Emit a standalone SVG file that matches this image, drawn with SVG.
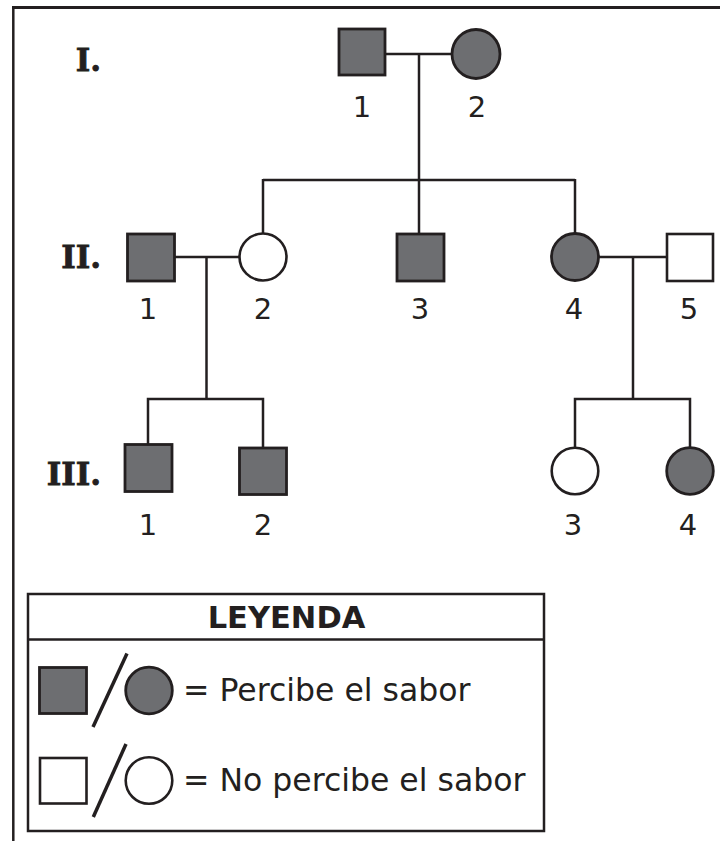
<svg xmlns="http://www.w3.org/2000/svg" width="720" height="841" viewBox="0 0 720 841">
<style>
.af{fill:#6d6e71;stroke:#231f20;stroke-width:2.8}
.un{fill:#ffffff;stroke:#231f20;stroke-width:2.6}
.ln{stroke:#231f20;stroke-width:2.5;fill:none}
.num{font-family:"DejaVu Sans","Verdana",sans-serif;font-size:29px;fill:#231f20;text-anchor:middle}
.gen{font-family:"DejaVu Serif","Liberation Serif",serif;font-weight:bold;font-size:31px;fill:#231f20;stroke:#231f20;stroke-width:0.8;text-anchor:end}
.leg{font-family:"DejaVu Sans","Verdana",sans-serif;font-size:31.5px;fill:#231f20}
</style>
<rect width="720" height="841" fill="#ffffff"/>
<g id="frame">
<line x1="12" y1="7.5" x2="720" y2="7.5" stroke="#231f20" stroke-width="3"/>
<line x1="13.3" y1="6" x2="13.3" y2="841" stroke="#231f20" stroke-width="2.5"/>
</g>
<g id="generation-labels">
<text class="gen" x="101" y="71">I.</text>
<text class="gen" x="101" y="268">II.</text>
<text class="gen" x="101" y="485">III.</text>
</g>
<g id="connectors">
<line class="ln" x1="385" y1="54" x2="452" y2="54"/>
<line class="ln" x1="419" y1="54" x2="419" y2="180"/>
<line class="ln" x1="263" y1="180" x2="575" y2="180"/>
<line class="ln" x1="263" y1="179" x2="263" y2="234"/>
<line class="ln" x1="419" y1="180" x2="419" y2="234"/>
<line class="ln" x1="575" y1="179" x2="575" y2="234"/>
<line class="ln" x1="174.5" y1="257" x2="239.5" y2="257"/>
<line class="ln" x1="206.5" y1="257" x2="206.5" y2="399"/>
<line class="ln" x1="598.5" y1="257" x2="667" y2="257"/>
<line class="ln" x1="633" y1="257" x2="633" y2="399"/>
<polyline class="ln" points="148,444.5 148,399 263,399 263,448"/>
<polyline class="ln" points="575,448 575,399 690,399 690,448"/>
</g>
<g id="I-1"><rect class="af" x="339" y="29" width="46" height="46"/><text class="num" x="362" y="117">1</text></g>
<g id="I-2"><ellipse class="af" cx="476" cy="54" rx="24" ry="24.5"/><text class="num" x="477" y="117">2</text></g>
<g id="II-1"><rect class="af" x="127.5" y="234" width="47" height="47"/><text class="num" x="148" y="319">1</text></g>
<g id="II-2"><circle class="un" cx="263" cy="257" r="23.5"/><text class="num" x="263" y="319">2</text></g>
<g id="II-3"><rect class="af" x="397" y="234" width="47" height="47"/><text class="num" x="420" y="319">3</text></g>
<g id="II-4"><circle class="af" cx="575" cy="257" r="23.5"/><text class="num" x="574" y="319">4</text></g>
<g id="II-5"><rect class="un" x="667" y="234" width="46" height="47"/><text class="num" x="689" y="319">5</text></g>
<g id="III-1"><rect class="af" x="125" y="444.5" width="47" height="47"/><text class="num" x="148" y="535">1</text></g>
<g id="III-2"><rect class="af" x="239.5" y="448" width="47" height="46.5"/><text class="num" x="263" y="535">2</text></g>
<g id="III-3"><circle class="un" cx="575" cy="471" r="23.3"/><text class="num" x="573" y="535">3</text></g>
<g id="III-4"><circle class="af" cx="690" cy="471" r="23.3"/><text class="num" x="688" y="535">4</text></g>
<g id="legend">
<rect x="28" y="594" width="516" height="237" fill="#ffffff" stroke="#231f20" stroke-width="2.5"/>
<line x1="28" y1="639.5" x2="544" y2="639.5" stroke="#231f20" stroke-width="2.5"/>
<text x="286.5" y="628" font-family="'DejaVu Sans','Verdana',sans-serif" font-weight="bold" font-size="30.5" fill="#231f20" text-anchor="middle">LEYENDA</text>
<rect class="af" x="39.5" y="667.5" width="47" height="46"/>
<line x1="93" y1="727" x2="127" y2="653.5" stroke="#231f20" stroke-width="3.5"/>
<circle class="af" cx="149" cy="690.5" r="23.3"/>
<text class="leg" x="183" y="701">= Percibe el sabor</text>
<rect class="un" x="40" y="758" width="46.5" height="45.5"/>
<line x1="93.3" y1="817" x2="126" y2="744" stroke="#231f20" stroke-width="3.5"/>
<circle class="un" cx="149" cy="780.5" r="23.3"/>
<text class="leg" x="183" y="791">= No percibe el sabor</text>
</g>
</svg>
